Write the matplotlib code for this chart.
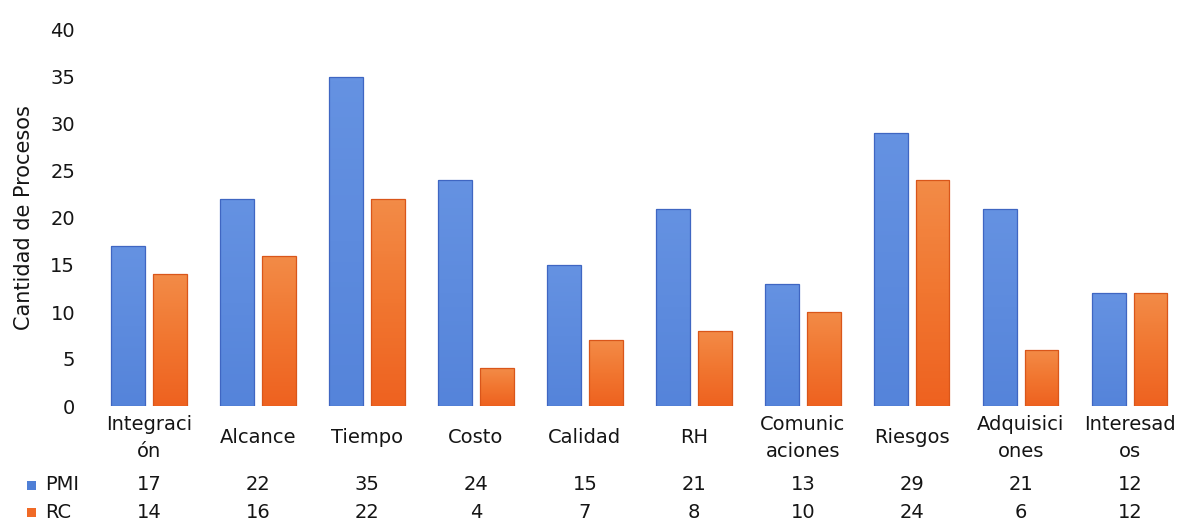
import numpy as np
import matplotlib.pyplot as plt
from matplotlib.colors import LinearSegmentedColormap
from matplotlib.patches import Rectangle

plt.rcParams['font.family'] = ['DejaVu Sans']

categorias = ['Integraci\nón', 'Alcance', 'Tiempo', 'Costo', 'Calidad', 'RH',
              'Comunic\naciones', 'Riesgos', 'Adquisici\nones', 'Interesad\nos']
pmi = [17, 22, 35, 24, 15, 21, 13, 29, 21, 12]
rc = [14, 16, 22, 4, 7, 8, 10, 24, 6, 12]
series = ['PMI', 'RC']
y_ticks = [0, 5, 10, 15, 20, 25, 30, 35, 40]

text_color = '#151515'
fs = 14

fig = plt.figure(figsize=(11.8, 5.26), dpi=100)
ax = fig.add_axes([94.5 / 1180, 120 / 526, 1085.5 / 1180, 376 / 526])

x = np.arange(len(categorias))
w = 0.31
off = 0.19

bars_pmi = ax.bar(x - off, pmi, w, facecolor='none', edgecolor='#3f66c2', linewidth=0.9, zorder=3)
bars_rc = ax.bar(x + off, rc, w, facecolor='none', edgecolor='#d9561a', linewidth=0.9, zorder=3)

# vertical gradient fills clipped to each bar
cmap_blue = LinearSegmentedColormap.from_list('b', ['#5584da', '#6592e2'])
cmap_orange = LinearSegmentedColormap.from_list('o', ['#ee6220', '#f17630', '#f38b47'])
grad = np.linspace(0, 1, 64).reshape(-1, 1)
for bars, cmap in [(bars_pmi, cmap_blue), (bars_rc, cmap_orange)]:
    for b in bars:
        x0, y0 = b.get_x(), b.get_y()
        bw, bh = b.get_width(), b.get_height()
        im = ax.imshow(grad, cmap=cmap, aspect='auto', origin='lower',
                       extent=[x0, x0 + bw, y0, y0 + bh], zorder=2)
        im.set_clip_path(b)

ax.set_xlim(-0.5, 9.46)
ax.set_ylim(0, 40)
ax.set_yticks(y_ticks)
ax.set_xticks(x, categorias)
ax.tick_params(axis='both', length=0, labelsize=fs, labelcolor=text_color)
ax.tick_params(axis='y', pad=14)
ax.tick_params(axis='x', pad=23)
for lbl in ax.get_xticklabels():
    lbl.set_va('center')
    lbl.set_linespacing(1.5)
for s in ax.spines.values():
    s.set_visible(False)

ax.set_ylabel('Cantidad de Procesos', fontsize=15, color=text_color, labelpad=12)

# data table under the chart
tr = ax.get_xaxis_transform()
row_px = [485, 512]
row_colors = ['#4f7fd6', '#f06a26']
for vals, ypx, name, col in zip([pmi, rc], row_px, series, row_colors):
    yy = (406 - ypx) / 376
    for i, v in enumerate(vals):
        ax.text(i, yy, str(v), transform=tr, ha='center', va='center',
                fontsize=fs, color=text_color, clip_on=False)
    yf = (526 - ypx) / 526
    fig.text(45 / 1180, yf, name, ha='left', va='center', fontsize=fs, color=text_color)
    fig.patches.append(Rectangle((27 / 1180, yf - 4.5 / 526), 9 / 1180, 9 / 526,
                                 transform=fig.transFigure, facecolor=col, edgecolor='none'))

fig.savefig('out.png', dpi=100)
